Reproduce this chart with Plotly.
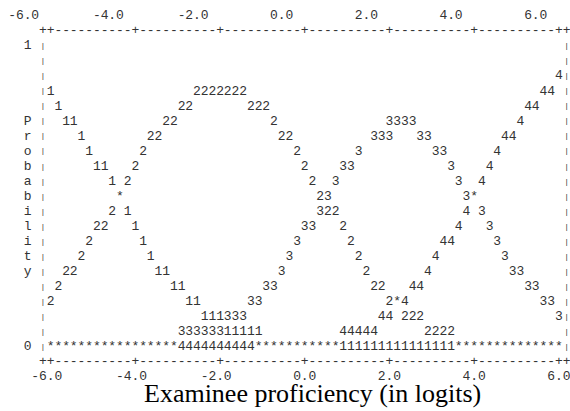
import plotly.graph_objects as go

# ---- data: the text content of the Winsteps-style category probability plot ----
TICK_LABELS = ["-6.0", "-4.0", "-2.0", "0.0", "2.0", "4.0", "6.0"]
Y_TITLE = "Probability"
Y_TOP = "1"
Y_BOTTOM = "0"
X_TITLE = "Examinee proficiency (in logits)"

# interior of the plot frame, one string per printed row (67 characters each)
PLOT_ROWS = [
    " " * 67,
    " " * 67,
    " " * 66 + "4",
    "1" + " " * 18 + "2222222" + " " * 38 + "44" + " ",
    " 1" + " " * 15 + "22" + " " * 7 + "222" + " " * 33 + "44" + " " * 3,
    "  11" + " " * 11 + "22" + " " * 12 + "2" + " " * 14 + "3333" + " " * 13 + "4" + " " * 5,
    "    1" + " " * 8 + "22" + " " * 15 + "22" + " " * 10 + "333" + " " * 3 + "33" + " " * 9 + "44" + " " * 6,
    " " * 5 + "1" + " " * 6 + "2" + " " * 19 + "2" + " " * 7 + "3" + " " * 9 + "33" + " " * 6 + "4" + " " * 8,
    " " * 6 + "11" + " " * 3 + "2" + " " * 21 + "2" + " " * 4 + "33" + " " * 12 + "3" + " " * 4 + "4" + " " * 9,
    " " * 8 + "1 2" + " " * 23 + "2" + " " * 2 + "3" + " " * 15 + "3" + " " * 2 + "4" + " " * 10,
    " " * 9 + "*" + " " * 25 + "23" + " " * 17 + "3*" + " " * 11,
    " " * 8 + "2 1" + " " * 24 + "322" + " " * 16 + "4 3" + " " * 10,
    " " * 6 + "22" + " " * 3 + "1" + " " * 21 + "33" + " " * 3 + "2" + " " * 14 + "4" + " " * 3 + "3" + " " * 9,
    " " * 5 + "2" + " " * 6 + "1" + " " * 19 + "3" + " " * 6 + "2" + " " * 11 + "44" + " " * 5 + "3" + " " * 8,
    " " * 4 + "2" + " " * 8 + "1" + " " * 17 + "3" + " " * 8 + "2" + " " * 9 + "4" + " " * 8 + "3" + " " * 7,
    "  22" + " " * 10 + "11" + " " * 14 + "3" + " " * 10 + "2" + " " * 7 + "4" + " " * 10 + "33" + " " * 5,
    " 2" + " " * 14 + "11" + " " * 10 + "33" + " " * 12 + "22" + " " * 3 + "44" + " " * 13 + "33" + " " * 3,
    "2" + " " * 17 + "11" + " " * 6 + "33" + " " * 16 + "2*4" + " " * 17 + "33" + " ",
    " " * 20 + "111333" + " " * 17 + "44 222" + " " * 17 + "3",
    " " * 17 + "33333311111" + " " * 10 + "44444" + " " * 6 + "2222" + " " * 14,
    "*" * 17 + "4" * 10 + "*" * 11 + "1" * 15 + "*" * 14,
]

# ---- assemble the printed lines ----
label_line = "".join(lbl.rjust(4).ljust(11) for lbl in TICK_LABELS).rstrip()
axis_line = "    ++" + "+".join(["-" * 10] * (len(TICK_LABELS) - 1)) + "++"

side = [" "] * len(PLOT_ROWS)
side[0] = Y_TOP
side[-1] = Y_BOTTOM
for k, ch in enumerate(Y_TITLE):
    side[5 + k] = ch

lines = [label_line, axis_line]
for k, row in enumerate(PLOT_ROWS):
    lines.append("  " + side[k] + " |" + row.ljust(67)[:67] + "|")
lines += [axis_line, "   " + label_line]

xs, ys, ts, sizes = [], [], [], []
for r, line in enumerate(lines):
    for c, ch in enumerate(line):
        if ch != " ":
            xs.append(c)
            ys.append(r)
            ts.append(ch)
            sizes.append(8 if ch == "|" else 13)

fig = go.Figure(
    go.Scatter(
        x=xs, y=ys, text=ts, mode="text",
        textposition="middle center",
        textfont=dict(family="Liberation Mono, Courier New, monospace", size=sizes, color="#333"),
        hoverinfo="skip",
        cliponaxis=False,
    )
)

W, H = 570, 411
fig.add_annotation(
    text=X_TITLE, xref="paper", yref="paper", x=312 / W, y=1 - 393 / H,
    xanchor="center", yanchor="middle", showarrow=False,
    font=dict(family="Liberation Serif, Times New Roman, serif", size=26, color="#000"),
)

fig.update_layout(
    width=W, height=H,
    margin=dict(l=0, r=0, t=0, b=0),
    paper_bgcolor="white", plot_bgcolor="white",
    showlegend=False,
    hovermode=False,
    xaxis=dict(visible=False, range=[-1.578, -1.578 + W / 7.7], fixedrange=True),
    yaxis=dict(visible=False, range=[(H - 16) / 15.05, -16 / 15.05], fixedrange=True),
)

fig.write_html(
    "out.html",
    config={"displayModeBar": False, "staticPlot": True},
    post_script="document.body.style.margin='0';document.body.style.overflow='hidden';",
)
